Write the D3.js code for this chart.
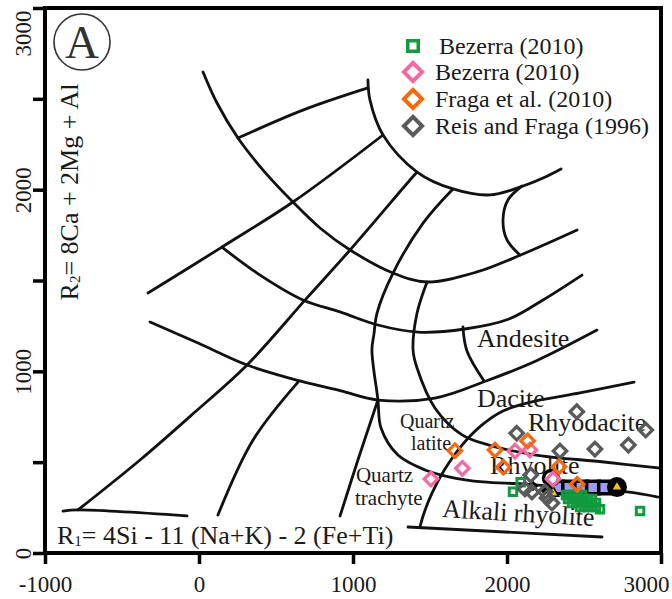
<!DOCTYPE html>
<html><head><meta charset="utf-8">
<script src="https://cdn.jsdelivr.net/npm/d3@7"></script>
<style>
body{margin:0;background:#fff}
svg{display:block}
text{font-family:"Liberation Serif","Times New Roman",serif;fill:#1a1a1a}
</style>
</head><body>
<svg id="chart" width="672" height="599"></svg>
<script>
// ---------------- DATA ----------------
const xTickValues = [-1000, 0, 1000, 2000, 3000];
const yTickValues = [0, 500, 1000, 1500, 2000, 2500, 3000];
const yTickLabelValues = [0, 1000, 2000, 3000];

// classification boundaries [R1, R2]
const outerArc   = [[26,2648],[117,2477],[253,2284],[416,2108],[610,1932],[786,1789],[981,1668],[1260,1541],[1481,1492],[1805,1547],[2104,1646],[2455,1778]];
const topCross   = [[253,2284],[675,2438],[1097,2560]];
const bowlArc    = [[1097,2604],[1110,2494],[1195,2301],[1416,2097],[1649,2004],[1890,1971],[2104,2020],[2234,2064],[2351,2114]];
const lineD      = [[-331,1431],[149,1684],[610,1932],[1195,2301]];
const lineE      = [[149,1684],[377,1541],[675,1393],[916,1327],[1162,1255],[1422,1216],[1727,1233],[2013,1288],[2234,1393],[2487,1530]];
const lineF      = [[-786,237],[-383,512],[-26,776],[312,1035],[701,1404],[981,1668],[1370,2053],[1416,2097]];
const lineH      = [[1649,2004],[1455,1816],[1260,1541],[1156,1321],[1136,1205],[1123,1117],[1162,842],[1182,688],[1292,539],[1468,457],[1630,418],[1844,391],[2104,380],[2409,358],[2779,336],[2981,308]];
const lineJ      = [[1481,1492],[1416,1321],[1390,1117],[1416,1018],[1532,798],[1708,650],[1883,594],[2188,539],[2630,501],[2981,468]];
const lineK      = [[1714,1244],[1740,1112],[1851,947]];
const lineL      = [[-318,1272],[-6,1156],[312,1035],[656,947],[922,892],[1162,842],[1532,853],[1864,947],[2188,1057],[2584,1227]];
const lineM      = [[123,209],[351,622],[643,941]];
const lineN      = [[916,204],[1032,512],[1162,842]];
const lineO      = [[-883,231],[-786,237],[-78,204]];
const lineP      = [[1357,143],[2617,88]];
const lineQ      = [[2825,941],[2474,881],[2188,837],[1974,782],[1838,705],[1708,594],[1597,462],[1513,330],[1455,204],[1435,143]];
const cCurve     = [[2097,2020],[2006,1943],[1974,1833],[2000,1723],[2084,1640]];
const boundaries = [outerArc, topCross, bowlArc, lineD, lineE, lineF, lineH, lineJ, lineK, lineL, lineM, lineN, lineO, lineP, lineQ, cCurve];

// field names and their anchor [R1, R2]
const fieldNames   = ["Andesite","Dacite","Rhyodacite","Rhyolite","Quartz","latite","Quartz","trachyte"];
const fieldAnchors = [[1805,1134],[1805,804],[2136,672],[1890,435],[1305,688],[1377,567],[1019,391],[1013,264]];
const fieldSizes   = [26,26,26,26,20,20,21,21];

// data series
const seriesNames  = ["Bezerra (2010)","Bezerra (2010)","Fraga et al. (2010)","Reis and Fraga (1996)"];
const greenPts  = [[2039,337],[2089,389],[2604,241],[2864,231],
  [2383,319],[2409,319],[2435,319],[2461,319],[2487,319],
  [2396,297],[2422,297],[2448,297],[2474,297],[2500,297],[2526,297],[2552,297],
  [2422,275],[2448,275],[2474,275],[2500,275],[2526,275],[2552,275],[2578,275],
  [2474,253],[2500,253],[2526,253],[2552,253],[2578,253]];
const pinkPts   = [[1506,407],[1710,466],[2052,561],[2149,567],[2299,407]];
const orangePts = [[1662,563],[1922,567],[2134,617],[1976,472],[2338,475],[2456,378]];
const greyPts   = [[2453,778],[2063,659],[2901,677],[2344,561],[2571,572],[2788,594],[2154,429],[2117,352],[2162,336],[2247,337],[2260,303],[2292,275]];
// unlabelled series
const lavenderPts = [[2325,360],[2403,360],[2481,360],[2558,360],[2636,360]];
const ringPts     = [[2286,413]];
const discPts     = [[2714,363]];
const trianglePts = [[2714,363],[2299,330]];
const blackPts    = [[2169,369],[2247,347]];

// ---------------- CHART ----------------
const svg = d3.select("#chart");
const x = d3.scaleLinear().domain([-1000, 3000]).range([45, 661]);
const y = d3.scaleLinear().domain([0, 3000]).range([553, 8]);
const FONT = '"Liberation Serif","Times New Roman",serif';

svg.append("rect").attr("width",672).attr("height",599).attr("fill","#fff");

// boundaries
const lineGen = d3.line().x(d => x(d[0])).y(d => y(d[1])).curve(d3.curveCatmullRom.alpha(0.5));
const gB = svg.append("g").attr("fill","none").attr("stroke","#111").attr("stroke-width",2.8)
  .attr("stroke-linecap","round").attr("stroke-linejoin","round");
boundaries.forEach(b => gB.append("path").attr("d", lineGen(b)));

// field labels
fieldNames.forEach((t,i) => {
  svg.append("text").attr("x", x(fieldAnchors[i][0])).attr("y", y(fieldAnchors[i][1]))
    .attr("font-size", fieldSizes[i]).text(t);
});
{
  const ax = x(1578), ay = y(198);
  svg.append("text").attr("x", ax).attr("y", ay).attr("font-size", 26)
    .attr("transform", `rotate(3.4,${ax},${ay})`).text("Alkali rhyolite");
}

// formula box
svg.append("rect").attr("x",47).attr("y",521).attr("width",356).attr("height",30).attr("fill","#fff");
{
  const t = svg.append("text").attr("x",57).attr("y",544).attr("font-size",26);
  t.append("tspan").text("R");
  t.append("tspan").attr("font-size",15).attr("dy",2).text("1");
  t.append("tspan").attr("dy",-2).text("= 4Si - 11 (Na+K) - 2 (Fe+Ti)");
}

// series
const sq = d3.symbol().type(d3.symbolSquare);
function drawSeries(pts, color, shape, area, sw, fill) {
  svg.append("g").selectAll("path").data(pts).join("path")
    .attr("d", sq.size(area)())
    .attr("transform", d => `translate(${x(d[0])},${y(d[1])})` + (shape === "diamond" ? " rotate(45)" : ""))
    .attr("fill", fill || "none").attr("stroke", color).attr("stroke-width", sw);
}
drawSeries(lavenderPts, "#000", "square", 156, 3.5, "#9d9cf0");
svg.append("g").selectAll("circle").data(ringPts).join("circle")
  .attr("cx", d => x(d[0])).attr("cy", d => y(d[1])).attr("r", 7.5)
  .attr("fill","#fff").attr("stroke","#000").attr("stroke-width",3.5);
svg.append("g").selectAll("circle").data(discPts).join("circle")
  .attr("cx", d => x(d[0])).attr("cy", d => y(d[1])).attr("r", 10).attr("fill","#000");
svg.append("g").selectAll("path").data(trianglePts).join("path")
  .attr("d", d3.symbol().type(d3.symbolTriangle).size(55)())
  .attr("transform", d => `translate(${x(d[0])},${y(d[1])})`)
  .attr("fill","#f4c20d").attr("stroke","#000").attr("stroke-width",1.5);
drawSeries(blackPts, "#000", "diamond", 30, 2, "#000");

drawSeries(greenPts, "#129a3f", "square", 56, 3);
drawSeries(pinkPts, "#f26ba3", "diamond", 90, 3.3);
drawSeries(greyPts, "#5a5a5a", "diamond", 90, 3.3);
drawSeries(orangePts, "#f56a10", "diamond", 90, 3.3);

// legend
const legColors = ["#129a3f","#f26ba3","#f56a10","#5a5a5a"];
const legShapes = ["square","diamond","diamond","diamond"];
const legY = [46, 72, 99, 126];
const legTextX = [439, 435, 435, 435];
seriesNames.forEach((n,i) => {
  svg.append("path").attr("d", sq.size(legShapes[i] === "square" ? 110 : 165)())
    .attr("transform", `translate(413,${legY[i]})` + (legShapes[i] === "diamond" ? " rotate(45)" : ""))
    .attr("fill","none").attr("stroke",legColors[i]).attr("stroke-width", legShapes[i] === "square" ? 3.5 : 4);
  svg.append("text").attr("x", legTextX[i]).attr("y", legY[i] + 7.5).attr("font-size",24).text(n);
});

// circled A
svg.append("circle").attr("cx",82).attr("cy",42).attr("r",28).attr("fill","none").attr("stroke","#333").attr("stroke-width",1.6);
svg.append("text").attr("x",82).attr("y",58).attr("text-anchor","middle").attr("font-size",47).style("fill","#333").text("A");

// y title
{
  const t = svg.append("text").attr("transform","translate(78,192) rotate(-90)")
    .attr("text-anchor","middle").attr("font-size",26);
  t.append("tspan").text("R");
  t.append("tspan").attr("font-size",15).attr("dy",2).text("2");
  t.append("tspan").attr("dy",-2).text("= 8Ca + 2Mg + Al");
}

// frame
svg.append("rect").attr("x",45).attr("y",8).attr("width",616).attr("height",545)
  .attr("fill","none").attr("stroke","#000").attr("stroke-width",4);

// axes
const gx = svg.append("g").attr("transform",`translate(0,${y(0)})`)
  .call(d3.axisBottom(x).tickValues(xTickValues).tickSize(11).tickSizeOuter(0).tickFormat(d => String(d)));
gx.select(".domain").remove();
gx.selectAll(".tick line").attr("stroke","#000").attr("stroke-width",3.5);
gx.selectAll(".tick text").attr("y",39).attr("dy",0).attr("font-size",23)
  .attr("font-family",FONT).style("fill","#1a1a1a")
  .each(function(d){
    const len = this.getComputedTextLength();
    const right = x(d) + len/2;
    if (right > 669) d3.select(this).attr("x", 669 - right);
  });

const gy = svg.append("g").attr("transform",`translate(${x(-1000)},0)`)
  .call(d3.axisLeft(y).tickValues(yTickValues).tickSize(12).tickSizeOuter(0)
    .tickFormat(d => yTickLabelValues.includes(d) ? String(d) : ""));
gy.select(".domain").remove();
gy.selectAll(".tick line").attr("stroke","#000").attr("stroke-width",3.5);
gy.selectAll(".tick text").attr("x",0).attr("y",-14).attr("dy",0)
  .attr("transform","rotate(-90)").attr("text-anchor","middle").attr("font-size",23)
  .attr("font-family",FONT).style("fill","#1a1a1a")
  .each(function(d){
    const len = this.getComputedTextLength();
    const top = y(d) - len/2;
    if (top < 10) d3.select(this).attr("x", -((10 + len/2) - y(d)));
  });
</script>
</body></html>
